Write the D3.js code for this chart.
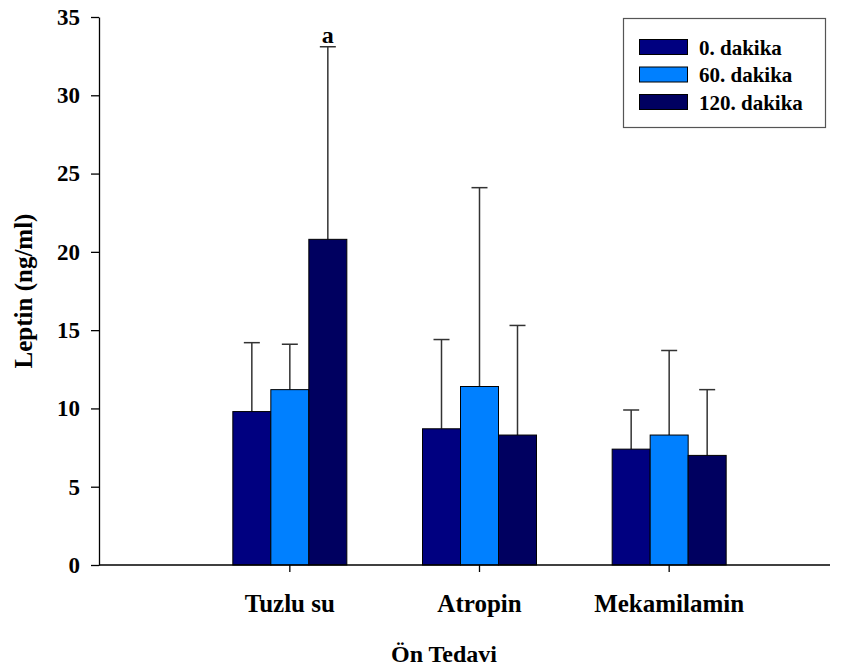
<!DOCTYPE html>
<html><head><meta charset="utf-8">
<script src="https://cdn.jsdelivr.net/npm/d3@7"></script>
<style>body{margin:0;background:#fff}svg{display:block}text{font-family:"Liberation Serif","Times New Roman",serif;font-weight:bold}</style>
</head><body><svg id="c" width="850" height="667"></svg>
<script>
const categories = ["Tuzlu su", "Atropin", "Mekamilamin"];
const seriesNames = ["0. dakika", "60. dakika", "120. dakika"];
const seriesColors = ["#000080", "#0080ff", "#000060"];
const means0 = [9.8, 8.7, 7.4];
const means60 = [11.2, 11.4, 8.3];
const means120 = [20.8, 8.3, 7.0];
const errTop0 = [14.2, 14.4, 9.9];
const errTop60 = [14.1, 24.1, 13.7];
const errTop120 = [33.1, 15.3, 11.2];
const yTicks = [0, 5, 10, 15, 20, 25, 30, 35];
const annotations = [{cat: "Tuzlu su", series: 2, text: "a"}];

const means = [means0, means60, means120];
const errs = [errTop0, errTop60, errTop120];
const svg = d3.select("#c");
const y = d3.scaleLinear().domain([0, 35]).range([565, 17]);
const x = d3.scaleBand().domain(categories).range([195, 764]);
const xs = d3.scaleBand().domain(d3.range(3)).range([0, 114]);
const left = 99, right = 830;
const FF = "Liberation Serif";

const data = [];
categories.forEach((c, i) => seriesNames.forEach((s, j) => data.push({c, j, v: means[j][i], e: errs[j][i]})));
const gx = c => x(c) + x.bandwidth() / 2 - 57;

// error bars
const eg = svg.append("g").attr("stroke", "#333").attr("stroke-width", 1.5);
data.forEach(d => {
  const cx = gx(d.c) + xs(d.j) + xs.bandwidth() / 2;
  eg.append("line").attr("x1", cx).attr("x2", cx).attr("y1", y(d.v)).attr("y2", y(d.e));
  eg.append("line").attr("x1", cx - 8).attr("x2", cx + 8).attr("y1", y(d.e)).attr("y2", y(d.e));
});
// bars
svg.append("g").selectAll("rect").data(data).join("rect")
  .attr("x", d => gx(d.c) + xs(d.j)).attr("width", xs.bandwidth())
  .attr("y", d => y(d.v)).attr("height", d => y(0) - y(d.v))
  .attr("fill", d => seriesColors[d.j]).attr("stroke", "#000").attr("stroke-width", 1);

// annotations
annotations.forEach(a => {
  const i = categories.indexOf(a.cat);
  const cx = gx(a.cat) + xs(a.series) + xs.bandwidth() / 2;
  svg.append("text").attr("x", cx).attr("y", y(errs[a.series][i]) - 4).attr("text-anchor", "middle")
    .attr("font-size", 24).text(a.text);
});

// y axis
const ya = svg.append("g").attr("transform", `translate(${left},0)`)
  .call(d3.axisLeft(y).tickValues(yTicks).tickSize(8).tickPadding(11).tickSizeOuter(0));
ya.attr("font-family", FF);
ya.select(".domain").attr("stroke", "#000").attr("stroke-width", 1.3);
ya.selectAll(".tick line").attr("stroke", "#000").attr("stroke-width", 1.3);
ya.selectAll("text").attr("font-size", 23).attr("font-family", FF).attr("font-weight", "bold").attr("fill", "#000");

// x axis
svg.append("line").attr("x1", left).attr("x2", right).attr("y1", 565).attr("y2", 565).attr("stroke", "#000").attr("stroke-width", 1.3);
const xa = svg.append("g").attr("transform", "translate(0,565)")
  .call(d3.axisBottom(x).tickSize(7).tickSizeOuter(0));
xa.attr("font-family", FF);
xa.select(".domain").remove();
xa.selectAll(".tick line").attr("stroke", "#000").attr("stroke-width", 1.3);
xa.selectAll("text").attr("y", 47).attr("dy", 0).attr("font-size", 25).attr("font-family", FF).attr("font-weight", "bold").attr("fill", "#000");

// titles
svg.append("text").attr("x", 444).attr("y", 662).attr("text-anchor", "middle").attr("font-size", 24).text("Ön Tedavi");
svg.append("text").attr("transform", "translate(32,291) rotate(-90)").attr("text-anchor", "middle").attr("font-size", 25).text("Leptin (ng/ml)");

// legend
const lg = svg.append("g");
lg.append("rect").attr("x", 623.5).attr("y", 18.5).attr("width", 202).attr("height", 109).attr("fill", "#fff").attr("stroke", "#555").attr("stroke-width", 1.2);
seriesNames.forEach((s, j) => {
  const yy = 39.5 + j * 27.5;
  lg.append("rect").attr("x", 639.5).attr("y", yy).attr("width", 48).attr("height", 15).attr("fill", seriesColors[j]).attr("stroke", "#000");
  lg.append("text").attr("x", 699).attr("y", yy + 15).attr("font-size", 21).text(s);
});
</script></body></html>
